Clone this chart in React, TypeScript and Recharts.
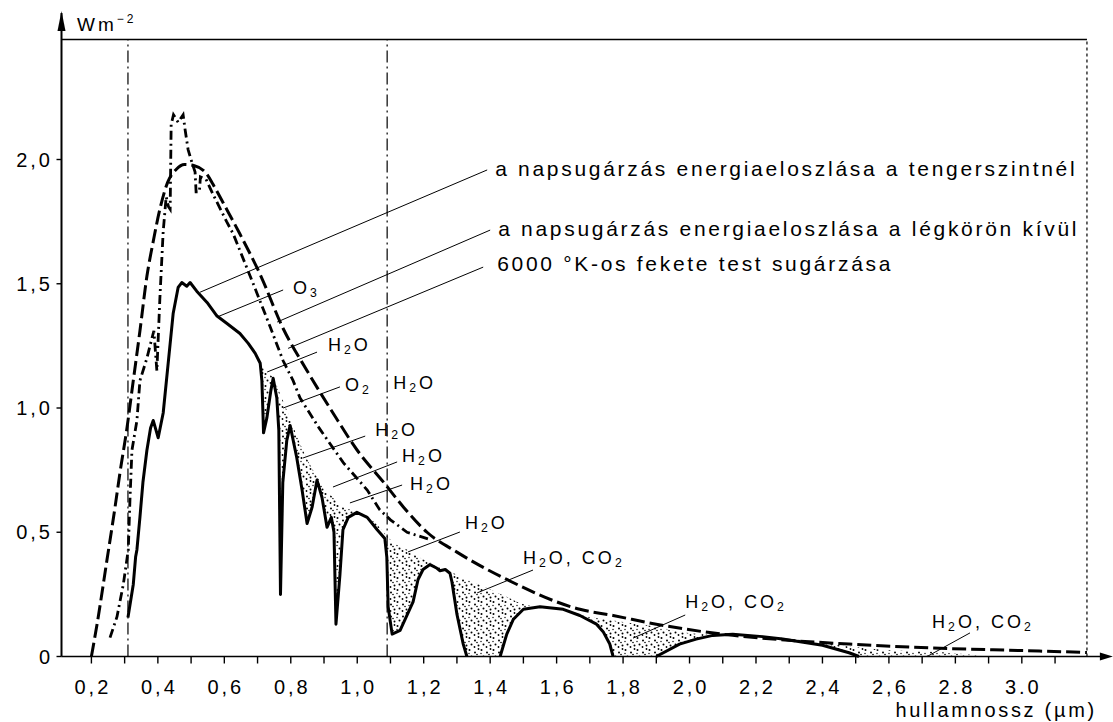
import React from 'react';
import { ComposedChart, Line, Area, XAxis, YAxis, Scatter, ReferenceLine } from 'recharts';

const FONT = "'Liberation Sans', Arial, Helvetica, sans-serif";

// 6000 K black body (long dashes)
const bbX = [0.2, 0.217, 0.247, 0.271, 0.286, 0.306, 0.326, 0.346, 0.367, 0.386, 0.406, 0.43, 0.455, 0.48, 0.51, 0.548, 0.566, 0.607, 0.647, 0.707, 0.777, 0.849, 0.927, 1.0, 1.08, 1.14, 1.21, 1.3, 1.45, 1.67, 1.77, 1.9, 2.13, 2.27, 2.48, 2.78, 3.0, 3.196];
const bbY = [0, 0.13, 0.39, 0.6, 0.74, 0.91, 1.11, 1.31, 1.53, 1.67, 1.8, 1.91, 1.96, 1.98, 1.975, 1.94, 1.9, 1.8, 1.7, 1.54, 1.32, 1.15, 0.98, 0.83, 0.7, 0.6, 0.5, 0.42, 0.31, 0.19, 0.165, 0.13, 0.085, 0.068, 0.05, 0.032, 0.024, 0.016];

// outside the atmosphere (dash-dot)
const extX = [0.256, 0.277, 0.296, 0.311, 0.316, 0.322, 0.337, 0.346, 0.367, 0.382, 0.388, 0.397, 0.406, 0.416, 0.425, 0.432, 0.437, 0.44, 0.447, 0.461, 0.476, 0.482, 0.491, 0.502, 0.512, 0.515, 0.525, 0.528, 0.545, 0.566, 0.607, 0.627, 0.687, 0.737, 0.777, 0.807, 0.828, 0.885, 0.958, 1.03, 1.068, 1.1, 1.15, 1.22];
const extY = [0.076, 0.16, 0.29, 0.43, 0.63, 0.83, 0.95, 1.11, 1.2, 1.28, 1.31, 1.15, 1.44, 1.71, 1.85, 1.81, 1.8, 2.14, 2.18, 2.15, 2.18, 2.12, 2.04, 1.99, 1.95, 1.87, 1.87, 1.93, 1.92, 1.86, 1.75, 1.7, 1.5, 1.33, 1.19, 1.11, 1.04, 0.92, 0.78, 0.67, 0.59, 0.55, 0.5, 0.47];

// at sea level (solid)
const seaX = [0.31, 0.326, 0.333, 0.337, 0.346, 0.355, 0.367, 0.378, 0.386, 0.401, 0.416, 0.431, 0.446, 0.461, 0.472, 0.487, 0.497, 0.517, 0.548, 0.578, 0.608, 0.647, 0.672, 0.693, 0.708, 0.713, 0.716, 0.718, 0.728, 0.74, 0.747, 0.758, 0.764, 0.769, 0.776, 0.788, 0.798, 0.818, 0.834, 0.849, 0.864, 0.879, 0.894, 0.909, 0.922, 0.93, 0.936, 0.948, 0.957, 0.973, 0.999, 1.03, 1.06, 1.083, 1.089, 1.093, 1.105, 1.129, 1.168, 1.183, 1.198, 1.219, 1.24, 1.249, 1.265, 1.279, 1.285, 1.3, 1.319, 1.33, 1.38, 1.43, 1.45, 1.47, 1.5, 1.55, 1.62, 1.67, 1.72, 1.74, 1.76, 1.77, 1.83, 1.9, 1.97, 2.02, 2.07, 2.13, 2.22, 2.28, 2.4, 2.48, 2.51];
const seaY = [0.157, 0.29, 0.4, 0.43, 0.56, 0.7, 0.83, 0.92, 0.95, 0.88, 0.98, 1.18, 1.38, 1.485, 1.505, 1.49, 1.505, 1.47, 1.425, 1.37, 1.34, 1.3, 1.26, 1.22, 1.18, 1.11, 0.99, 0.9, 0.96, 1.07, 1.12, 1.04, 0.91, 0.25, 0.7, 0.87, 0.93, 0.8, 0.67, 0.535, 0.6, 0.71, 0.64, 0.52, 0.56, 0.5, 0.13, 0.33, 0.51, 0.56, 0.58, 0.56, 0.51, 0.475, 0.4, 0.2, 0.09, 0.105, 0.22, 0.31, 0.35, 0.37, 0.355, 0.345, 0.35, 0.335, 0.3, 0.17, 0.05, 0, null, 0, 0.09, 0.15, 0.19, 0.2, 0.19, 0.165, 0.13, 0.1, 0.05, 0, null, 0, 0.05, 0.07, 0.085, 0.09, 0.08, 0.07, 0.045, 0.015, 0];

// upper edge of the stippled absorption bands
const envX = [0.7, 0.72, 0.747, 0.77, 0.8, 0.84, 0.88, 0.92, 0.96, 1.0, 1.04, 1.08, 1.1, 1.15, 1.2, 1.25, 1.29, 1.35, 1.4, 1.45, 1.5, 1.55, 1.62, 1.7, 1.77, 1.85, 1.9, 1.97, 2.05, 2.13, 2.3, 2.48, 2.6, 2.75, 2.9];
const envY = [1.2, 1.16, 1.12, 1.05, 0.95, 0.82, 0.72, 0.65, 0.6, 0.585, 0.555, 0.5, 0.47, 0.43, 0.39, 0.36, 0.335, 0.3, 0.27, 0.24, 0.21, 0.2, 0.19, 0.16, 0.145, 0.13, 0.12, 0.1, 0.09, 0.09, 0.072, 0.04, 0.025, 0.018, 0];

const xTicks = [0.2, 0.3, 0.4, 0.5, 0.6, 0.7, 0.8, 0.9, 1.0, 1.1, 1.2, 1.3, 1.4, 1.5, 1.6, 1.7, 1.8, 1.9, 2.0, 2.1, 2.2, 2.3, 2.4, 2.5, 2.6, 2.7, 2.8, 2.9, 3.0, 3.1];
const xTickLabels = ['0,2', '', '0,4', '', '0,6', '', '0,8', '', '1,0', '', '1,2', '', '1,4', '', '1,6', '', '1,8', '', '2,0', '', '2,2', '', '2,4', '', '2,6', '', '2.8', '', '3.0', ''];
const yTicks = [0, 0.5, 1.0, 1.5, 2.0];
const yTickLabels = ['0', '0,5', '1,0', '1,5', '2,0'];

const vLines = [0.31, 1.09];
const frameTop = 2.483;
const frameRight = 3.196;

// annotations: text, text anchor point, leader line from -> to
const noteText = [
  'a napsugárzás energiaeloszlása a tengerszintnél',
  'a napsugárzás energiaeloszlása a légkörön kívül',
  '6000 °K-os fekete test sugárzása',
  'O_3', 'H_2O', 'O_2', 'H_2O', 'H_2O', 'H_2O', 'H_2O', 'H_2O',
  'H_2O, CO_2', 'H_2O, CO_2', 'H_2O, CO_2',
];
const noteBig = [true, true, true, false, false, false, false, false, false, false, false, false, false, false];
const noteX = [1.415, 1.424, 1.421, 0.807, 0.912, 0.963, 1.108, 1.054, 1.135, 1.159, 1.324, 1.499, 1.987, 2.73];
const noteY = [1.964, 1.724, 1.584, 1.483, 1.254, 1.093, 1.101, 0.912, 0.807, 0.694, 0.537, 0.396, 0.219, 0.139];
const leadFromX = [1.391, 1.4, 1.379, 0.777, 0.879, 0.948, null, 1.024, 1.12, 1.135, 1.309, 1.529, 1.987, 2.844];
const leadFromY = [1.958, 1.716, 1.567, 1.475, 1.225, 1.085, null, 0.887, 0.783, 0.69, 0.501, 0.348, 0.167, 0.095];
const leadToX = [0.527, 0.759, 0.792, 0.578, 0.729, 0.777, null, 0.837, 0.927, 0.978, 1.153, 1.361, 1.83, 2.715];
const leadToY = [1.466, 1.346, 1.24, 1.366, 1.145, 1.0, null, 0.799, 0.682, 0.618, 0.421, 0.256, 0.074, 0];

const yUnitText = 'Wm';
const yUnitSup = '−2';
const xTitle = 'hullamnossz (µm)';

const toPts = (xs: number[], ys: (number | null)[]) => xs.map((x, i) => ({ x, y: ys[i] }));
const bbData = toPts(bbX, bbY);
const extData = toPts(extX, extY);
const seaData = toPts(seaX, seaY);
const envData = toPts(envX, envY);
const noteData = noteText.map((t, i) => ({ x: noteX[i], y: noteY[i], text: t, big: noteBig[i] }));

function formula(text: string, size: number) {
  const tokens = text.split(/(_\d)/).filter((t) => t.length > 0);
  const sh = size * 0.3;
  let prevSub = false;
  return tokens.map((t, i) => {
    if (t.startsWith('_')) {
      prevSub = true;
      return (
        <tspan key={i} fontSize={size * 0.68} dy={sh}>
          {t.slice(1)}
        </tspan>
      );
    }
    const dy = prevSub ? -sh : 0;
    prevSub = false;
    return (
      <tspan key={i} dy={dy}>
        {t}
      </tspan>
    );
  });
}

const NoteShape = (props: any) => {
  const { cx, cy, payload } = props;
  if (cx == null || cy == null) return <g />;
  const size = payload.big ? 21 : 18;
  const ls = payload.big ? 2.7 : 3;
  return (
    <text x={cx} y={cy} dominantBaseline="central" fontSize={size} letterSpacing={ls} fontFamily={FONT} fill="#000">
      {formula(payload.text, size)}
    </text>
  );
};

const XTick = (props: any) => {
  const { x, y, payload } = props;
  const i = xTicks.findIndex((t) => Math.abs(t - payload.value) < 1e-6);
  const label = i >= 0 ? xTickLabels[i] : '';
  if (!label) return <g />;
  return (
    <text x={x + 1.5} y={y + 30.5} textAnchor="middle" fontSize={20} letterSpacing={3} fontFamily={FONT} fill="#000">
      {label}
    </text>
  );
};

const YTick = (props: any) => {
  const { x, y, payload } = props;
  const i = yTicks.findIndex((t) => Math.abs(t - payload.value) < 1e-6);
  const label = i >= 0 ? yTickLabels[i] : '';
  return (
    <text x={x - 3.5} y={y + 7} textAnchor="end" fontSize={20} letterSpacing={3} fontFamily={FONT} fill="#000">
      {label}
    </text>
  );
};

const renderXLabel = (props: any) => {
  const vb = props.viewBox || {};
  const ax = vb.x + vb.width;
  const ay = vb.y;
  return (
    <g>
      <polygon points={`${ax + 8},${ay} ${ax - 5},${ay - 4} ${ax - 5},${ay + 4}`} fill="#000" />
      <text x={ax - 8} y={ay + 60.5} textAnchor="end" fontSize={20} letterSpacing={2.7} fontFamily={FONT} fill="#000">
        {xTitle}
      </text>
    </g>
  );
};

const renderYLabel = (props: any) => {
  const vb = props.viewBox || {};
  const ax = vb.x + vb.width;
  const ay = vb.y;
  return (
    <g>
      <polygon points={`${ax},${ay - 2} ${ax - 4},${ay + 18} ${ax + 4},${ay + 18}`} fill="#000" />
      <text x={ax + 15.5} y={ay + 18} fontSize={19} letterSpacing={3} fontFamily={FONT} fill="#000">
        {yUnitText}
        <tspan fontSize={12} dy={-8}>
          {yUnitSup}
        </tspan>
      </text>
    </g>
  );
};

export default function App() {
  return (
    <div style={{ position: 'absolute', left: 0, top: 0, width: 1113, height: 722, background: '#fff' }}>
      <ComposedChart width={1113} height={722} margin={{ top: 12.9, right: 8.1, bottom: 0, left: 0 }} style={{ fontFamily: FONT }}>
        <defs>
          <pattern id="stip" width="12" height="12" patternUnits="userSpaceOnUse">
            <circle cx="1.5" cy="2" r="1" fill="#000" />
            <circle cx="3.5" cy="8.5" r="1" fill="#000" />
            <circle cx="7" cy="4.5" r="1" fill="#000" />
            <circle cx="10.5" cy="1" r="0.9" fill="#000" />
            <circle cx="10.5" cy="9.5" r="1" fill="#000" />
            <circle cx="6.5" cy="11" r="0.9" fill="#000" />
            <circle cx="9" cy="6.5" r="0.8" fill="#000" />
            <circle cx="1" cy="5.5" r="0.7" fill="#000" />
          </pattern>
        </defs>
        <XAxis
          type="number"
          dataKey="x"
          domain={[0.11, 3.25]}
          ticks={xTicks}
          interval={0}
          tick={XTick}
          tickSize={7}
          tickMargin={0}
          height={65.5}
          axisLine={{ stroke: '#000', strokeWidth: 1.6 }}
          tickLine={{ stroke: '#000', strokeWidth: 1.4 }}
          label={renderXLabel}
        />
        <YAxis
          type="number"
          domain={[0, 2.59]}
          ticks={yTicks}
          interval={0}
          width={61.5}
          tick={YTick}
          tickSize={5}
          tickMargin={0}
          axisLine={{ stroke: '#000', strokeWidth: 2 }}
          tickLine={{ stroke: '#000', strokeWidth: 1.4 }}
          label={renderYLabel}
        />
        <Area data={envData} dataKey="y" type="monotone" stroke="none" fill="url(#stip)" fillOpacity={1} isAnimationActive={false} dot={false} activeDot={false} />
        <Area data={seaData} dataKey="y" type="linear" stroke="#000" strokeWidth={3} strokeLinejoin="round" fill="#fff" fillOpacity={1} connectNulls={false} isAnimationActive={false} dot={false} activeDot={false} />
        <ReferenceLine segment={[{ x: 0.11, y: frameTop }, { x: frameRight, y: frameTop }]} stroke="#000" strokeWidth={1.3} ifOverflow="visible" />
        <ReferenceLine segment={[{ x: frameRight, y: 0 }, { x: frameRight, y: frameTop }]} stroke="#000" strokeWidth={1.2} strokeDasharray="3 3" ifOverflow="visible" />
        {vLines.map((v, i) => (
          <ReferenceLine key={'v' + i} segment={[{ x: v, y: 0 }, { x: v, y: frameTop }]} stroke="#000" strokeWidth={1.2} strokeDasharray="12 4 2 4" ifOverflow="visible" />
        ))}
        {noteText.map((t, i) =>
          leadFromX[i] == null ? null : (
            <ReferenceLine
              key={'l' + i}
              segment={[{ x: leadFromX[i] as number, y: leadFromY[i] as number }, { x: leadToX[i] as number, y: leadToY[i] as number }]}
              stroke="#000"
              strokeWidth={1}
              ifOverflow="visible"
            />
          )
        )}
        <Line data={extData} dataKey="y" type="linear" stroke="#000" strokeWidth={2.8} strokeDasharray="9 4 2 4" dot={false} activeDot={false} isAnimationActive={false} />
        <Line data={bbData} dataKey="y" type="monotone" stroke="#000" strokeWidth={3} strokeDasharray="14 5" dot={false} activeDot={false} isAnimationActive={false} />
        <Scatter data={noteData} dataKey="y" shape={NoteShape} isAnimationActive={false} />
      </ComposedChart>
    </div>
  );
}
